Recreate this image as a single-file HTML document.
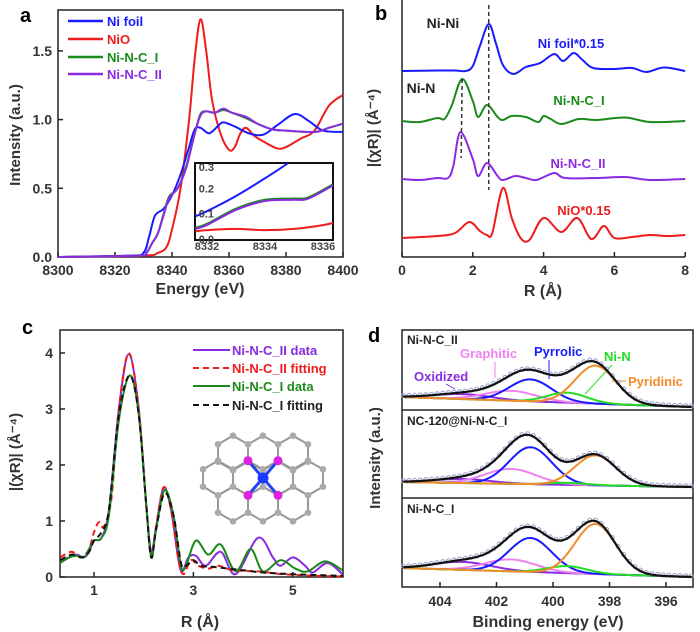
<!DOCTYPE html>
<html><head><meta charset="utf-8">
<style>
html,body{margin:0;padding:0;background:#fff;}
svg{display:block;font-family:"Liberation Sans",sans-serif;font-weight:bold;}
</style></head>
<body>
<svg id="fig" width="700" height="632" viewBox="0 0 700 632" xmlns="http://www.w3.org/2000/svg">
<!-- panel labels -->
<text x="20" y="22" font-size="20">a</text>
<text x="375" y="20" font-size="20">b</text>
<text x="22" y="334" font-size="20">c</text>
<text x="368" y="342" font-size="20">d</text>

<!-- panel a -->
<g id="pa">
<rect x="58" y="10" width="285" height="247" fill="none" stroke="#222" stroke-width="1.5"/>
<text x="200" y="294" font-size="16" text-anchor="middle" fill="#333">Energy (eV)</text>
<text transform="translate(20,135) rotate(-90)" font-size="15" text-anchor="middle" fill="#333">Intensity (a.u.)</text>
<g>
<line x1="68" y1="21" x2="103" y2="21" stroke="#1a1aff" stroke-width="2.5"/><text x="107" y="26" font-size="13" fill="#1a1aff">Ni foil</text>
<line x1="68" y1="39" x2="103" y2="39" stroke="#ee1c1c" stroke-width="2.5"/><text x="107" y="44" font-size="13" fill="#ee1c1c">NiO</text>
<line x1="68" y1="57" x2="103" y2="57" stroke="#1a8a1a" stroke-width="2.5"/><text x="107" y="62" font-size="13" fill="#1a8a1a">Ni-N-C_I</text>
<line x1="68" y1="74" x2="103" y2="74" stroke="#8a2be2" stroke-width="2.5"/><text x="107" y="79" font-size="13" fill="#8a2be2">Ni-N-C_II</text>
</g>
</g>

<!-- panel b -->
<g id="pb">
<line x1="402" y1="0" x2="402" y2="257" stroke="#222" stroke-width="1.5"/>
<line x1="402" y1="257" x2="685" y2="257" stroke="#222" stroke-width="1.5"/>
<text x="543" y="296" font-size="16" text-anchor="middle" fill="#333">R (Å)</text>
<text transform="translate(378,128) rotate(-90)" font-size="15" text-anchor="middle" fill="#333">|(χR)| (Å⁻⁴)</text>
<text x="443" y="28" font-size="14" text-anchor="middle" fill="#222">Ni-Ni</text>
<text x="421" y="93" font-size="14" text-anchor="middle" fill="#222">Ni-N</text>
<text x="571" y="48" font-size="13" text-anchor="middle" fill="#1a1aff">Ni foil*0.15</text>
<text x="579" y="105" font-size="13" text-anchor="middle" fill="#1a8a1a">Ni-N-C_I</text>
<text x="578" y="168" font-size="13" text-anchor="middle" fill="#8a2be2">Ni-N-C_II</text>
<text x="584" y="215" font-size="13" text-anchor="middle" fill="#ee1c1c">NiO*0.15</text>
</g>

<!-- panel c -->
<g id="pc">
<rect x="60" y="330" width="283" height="247" fill="none" stroke="#222" stroke-width="1.5"/>
<text x="200" y="627" font-size="16" text-anchor="middle" fill="#333">R (Å)</text>
<text transform="translate(20,452) rotate(-90)" font-size="15" text-anchor="middle" fill="#333">|(χR)| (Å⁻⁴)</text>
<g>
<line x1="193" y1="350" x2="230" y2="350" stroke="#8a2be2" stroke-width="2"/><text x="232" y="355" font-size="13" fill="#8a2be2">Ni-N-C_II data</text>
<line x1="193" y1="368" x2="230" y2="368" stroke="#ee1c1c" stroke-width="2" stroke-dasharray="6,4"/><text x="232" y="373" font-size="13" fill="#ee1c1c">Ni-N-C_II fitting</text>
<line x1="193" y1="386" x2="230" y2="386" stroke="#1a8a1a" stroke-width="2"/><text x="232" y="391" font-size="13" fill="#1a8a1a">Ni-N-C_I data</text>
<line x1="193" y1="405" x2="230" y2="405" stroke="#111" stroke-width="2" stroke-dasharray="6,4"/><text x="232" y="410" font-size="13" fill="#222">Ni-N-C_I fitting</text>
</g>
<g id="mol"></g>
</g>

<!-- panel d -->
<g id="pd">
<rect x="402" y="330" width="291" height="257" fill="none" stroke="#222" stroke-width="1.5"/>
<line x1="402" y1="410" x2="693" y2="410" stroke="#222" stroke-width="1.5"/>
<line x1="402" y1="498" x2="693" y2="498" stroke="#222" stroke-width="1.5"/>
<text x="548" y="627" font-size="16" text-anchor="middle" fill="#333">Binding energy (eV)</text>
<text transform="translate(380,458) rotate(-90)" font-size="15" text-anchor="middle" fill="#333">Intensity (a.u.)</text>
<text x="407" y="344" font-size="12" fill="#222">Ni-N-C_II</text>
<text x="407" y="425" font-size="12" fill="#222">NC-120@Ni-N-C_I</text>
<text x="407" y="513" font-size="12" fill="#222">Ni-N-C_I</text>
<text x="414" y="381" font-size="13" fill="#8a2be2">Oxidized</text>
<text x="460" y="358" font-size="13" fill="#ee82ee">Graphitic</text>
<text x="534" y="356" font-size="13" fill="#1a1aff">Pyrrolic</text>
<text x="604" y="361" font-size="13" fill="#22dd22">Ni-N</text>
<text x="628" y="386" font-size="13" fill="#f28c28">Pyridinic</text>
<line x1="446" y1="384" x2="455" y2="389" stroke="#8a2be2" stroke-width="1"/>
<line x1="495" y1="362" x2="495" y2="378" stroke="#ee82ee" stroke-width="1"/>
<line x1="549" y1="360" x2="549" y2="379" stroke="#1a1aff" stroke-width="1"/>
<line x1="612" y1="365" x2="585" y2="394" stroke="#22dd22" stroke-width="1"/>
<line x1="626" y1="381" x2="612" y2="381" stroke="#f28c28" stroke-width="1"/>
</g>
</svg>
<script>
// ---------- data ----------
const aFoilE=[8300,8325,8330,8332,8334,8337,8340,8343,8346,8348,8350,8353,8356,8358,8362,8367,8372,8377,8383,8388,8393,8400];
const aFoilI=[0,0.01,0.03,0.15,0.3,0.35,0.45,0.6,0.8,0.93,0.94,0.9,0.95,0.98,0.95,0.9,0.89,0.96,1.04,0.99,0.92,0.91];
const aNiOE=[8300,8330,8335,8338,8340,8343,8346,8348,8350,8352,8354,8357,8360,8362,8364,8366,8369,8373,8377,8380,8385,8390,8395,8400];
const aNiOI=[0,0.01,0.03,0.07,0.2,0.5,1.0,1.45,1.73,1.5,1.15,0.9,0.78,0.8,0.9,0.94,0.88,0.83,0.79,0.8,0.86,0.92,1.1,1.18];
const aIIE=[8300,8328,8331,8333,8335,8337,8339,8342,8345,8348,8350,8352,8355,8358,8361,8366,8370,8375,8380,8390,8395,8400];
const aIII=[0,0.01,0.03,0.1,0.17,0.3,0.43,0.5,0.65,0.9,1.03,1.06,1.05,1.08,1.05,1.02,0.97,0.93,0.92,0.91,0.94,0.97];
const aIE=[8300,8328,8331,8333,8335,8337,8339,8342,8345,8348,8350,8352,8355,8358,8361,8366,8370,8375,8380,8390,8395,8400];
const aII=[0,0.01,0.03,0.1,0.17,0.31,0.44,0.5,0.66,0.9,1.04,1.06,1.05,1.07,1.05,1.01,0.97,0.93,0.92,0.91,0.94,0.97];
const aTicksX=[8300,8320,8340,8360,8380,8400];
const aTicksY=[0,0.5,1.0,1.5];
const inFoilE=[8331.6,8332,8333,8334,8334.8];
const inFoilI=[0.09,0.11,0.17,0.24,0.3];
const inIE=[8331.6,8332,8333,8334,8335,8335.5,8336.4];
const inII=[0.045,0.06,0.12,0.155,0.16,0.165,0.22];
const inIII=[0.04,0.055,0.115,0.15,0.155,0.16,0.215];
const inNiOE=[8331.6,8332,8333,8334,8335,8336,8336.4];
const inNiOI=[0.03,0.035,0.04,0.035,0.04,0.055,0.065];
const inTicksX=[8332,8334,8336];
const inTicksY=[0.0,0.1,0.2,0.3];
const bOffsets=[18.6,13.6,7.8,1.9];
const bFoilR=[0,1.0,1.5,1.8,2.0,2.2,2.45,2.65,2.85,3.15,3.5,3.9,4.3,4.55,4.85,5.1,5.4,6.0,6.5,6.9,7.4,8];
const bFoilV=[0,0.05,0.05,0,0.5,2.5,4.7,2.8,0.6,-0.3,0.4,0.8,1.7,1.0,1.8,1.1,0.3,0.2,0.3,-0.1,0.35,0];
const bIR=[0,0.5,1.0,1.2,1.4,1.7,2.0,2.15,2.4,2.7,2.85,3.1,3.5,3.85,4.0,4.2,4.5,5.0,5.5,6.3,7.0,8];
const bIV=[0,-0.1,0.3,0.2,1.5,4.2,2.0,0.4,1.6,0.4,0.1,0.5,0.4,-0.1,0.5,0.2,-0.3,0.2,0.1,0.35,-0.1,0];
const bIIR=[0,0.5,1.0,1.3,1.45,1.65,2.0,2.15,2.4,2.7,2.85,3.2,3.5,3.8,4.3,4.6,5.5,6.3,7.0,8];
const bIIV=[0,-0.1,0.1,0.1,1.3,4.7,2.0,0.3,1.6,0.3,-0.1,0.3,0.1,-0.1,0.6,0.1,0.1,0.2,-0.1,0];
const bNiOR=[0,1.0,1.5,1.9,2.2,2.4,2.55,2.85,3.1,3.35,3.6,4.0,4.5,4.95,5.35,5.7,6.0,6.5,7.0,7.5,8];
const bNiOV=[0,0.2,0.5,1.6,0.7,0.3,0.5,5.0,2.0,0,-0.2,2.0,0.6,2.0,-0.1,1.2,0,0.1,0.3,0.2,0.3];
const bTicksX=[0,2,4,6,8];
const cR1=[0.32,0.5,0.65,0.8,0.9,1.0,1.15,1.3,1.5,1.7,1.9,2.05,2.15,2.25,2.4,2.55,2.7,2.78,2.9,3.05,3.25,3.55,3.85,4.3,4.6,4.75,5.0,5.25,5.4,5.7,6.0];
const cIIdata=[0.3,0.35,0.4,0.35,0.45,0.65,0.7,1.2,3.0,3.98,3.0,1.3,0.45,0.9,1.6,1.2,0.3,0.1,0.35,0.38,0.2,0.45,0.05,0.7,0.35,0.2,0.35,0.2,0.08,0.25,0.05];
const cR2=[0.32,0.55,0.75,0.9,1.0,1.1,1.2,1.35,1.5,1.7,1.9,2.05,2.15,2.25,2.4,2.55,2.7,2.8,2.95,3.1,3.3,3.5,3.8,4.3,4.8,5.5,6.0];
const cIIfit=[0.35,0.45,0.35,0.5,0.8,0.98,0.9,1.4,3.0,4.0,3.0,1.3,0.4,0.9,1.6,1.2,0.3,0.05,0.3,0.2,0.15,0.2,0.12,0.1,0.05,0.02,0.01];
const cR3=[0.32,0.5,0.65,0.8,0.9,1.0,1.15,1.3,1.5,1.72,1.9,2.05,2.15,2.25,2.42,2.6,2.75,2.85,3.05,3.3,3.55,3.85,4.15,4.4,4.75,5.05,5.3,5.65,6.0];
const cIdata=[0.25,0.35,0.38,0.35,0.5,0.65,0.7,1.1,2.8,3.6,2.9,1.3,0.35,0.85,1.55,1.1,0.2,0.2,0.65,0.4,0.58,0.1,0.5,0.1,0.3,0.15,0.1,0.28,0.12];
const cR4=[0.32,0.55,0.75,0.9,1.0,1.15,1.3,1.5,1.72,1.9,2.05,2.15,2.25,2.42,2.6,2.75,2.85,3.0,3.15,3.4,3.7,4.0,4.4,5.0,6.0];
const cIfit=[0.3,0.4,0.35,0.45,0.65,0.8,1.2,2.9,3.6,2.9,1.3,0.35,0.85,1.5,1.1,0.25,0.2,0.3,0.2,0.18,0.15,0.12,0.08,0.05,0.02];
const cTicksX=[1,3,5];
const cTicksY=[0,1,2,3,4];
const dCenters=[403.2,401.5,400.8,399.5,398.5];
const dWidths=[1.0,0.9,0.75,0.7,0.72];
const dHeights1=[5,10,22,10,38];
const dHeights2=[4,15,37,2,30];
const dHeights3=[8,12,34,7,50];
const dTicksX=[404,402,400,398,396];

// ---------- helpers ----------
const NS='http://www.w3.org/2000/svg';
const svg=document.getElementById('fig');
function mk(tag,attrs,parent){const e=document.createElementNS(NS,tag);for(const k in attrs)e.setAttribute(k,attrs[k]);(parent||svg).appendChild(e);return e;}
function spline(pts){
  if(pts.length<2)return '';
  let d='M'+pts[0][0].toFixed(2)+','+pts[0][1].toFixed(2);
  for(let i=0;i<pts.length-1;i++){
    const p0=pts[i-1]||pts[i],p1=pts[i],p2=pts[i+1],p3=pts[i+2]||p2;
    const c1=[p1[0]+(p2[0]-p0[0])/6,p1[1]+(p2[1]-p0[1])/6];
    const c2=[p2[0]-(p3[0]-p1[0])/6,p2[1]-(p3[1]-p1[1])/6];
    d+='C'+c1[0].toFixed(2)+','+c1[1].toFixed(2)+' '+c2[0].toFixed(2)+','+c2[1].toFixed(2)+' '+p2[0].toFixed(2)+','+p2[1].toFixed(2);
  }
  return d;
}
function curve(xs,ys,fx,fy,style,parent){
  const pts=xs.map((x,i)=>[fx(x),fy(ys[i])]);
  return mk('path',Object.assign({d:spline(pts),fill:'none'},style),parent);
}
const BLUE='#1a1aff',RED='#ee1c1c',GREEN='#1a8a1a',PURP='#8a2be2';

// ---------- panel a ----------
const pa=document.getElementById('pa');
const ax=e=>58+(e-8300)*2.85, ay=v=>257-v*137.4;
aTicksX.forEach(t=>{
  const tk=mk('line',{x1:ax(t),y1:257,x2:ax(t),y2:252,stroke:'#222','stroke-width':1.5},pa);
  
  
  const lb=mk('text',{x:ax(t),y:275,'font-size':14,'text-anchor':'middle',fill:'#333'},pa);lb.textContent=t;
  
  
});
aTicksY.forEach(t=>{
  const tk=mk('line',{x1:58,y1:ay(t),x2:63,y2:ay(t),stroke:'#222','stroke-width':1.5},pa);
  
  
  const lb=mk('text',{x:52,y:ay(t)+5,'font-size':14,'text-anchor':'end',fill:'#333'},pa);lb.textContent=t.toFixed(1);
  
  
});
let s;
s=curve(aNiOE,aNiOI,ax,ay,{stroke:RED,'stroke-width':2},pa);


s=curve(aFoilE,aFoilI,ax,ay,{stroke:BLUE,'stroke-width':2},pa);


s=curve(aIE,aII,ax,ay,{stroke:GREEN,'stroke-width':2},pa);


s=curve(aIIE,aIII,ax,ay,{stroke:PURP,'stroke-width':2},pa);


const insetBg=mk('rect',{x:195,y:163,width:138,height:77,fill:'#fff',stroke:'#111','stroke-width':2},pa);


const clip=mk('clipPath',{id:'inclip'},svg);mk('rect',{x:195,y:163,width:138,height:77},clip);
const ig=mk('g',{'clip-path':'url(#inclip)'},pa);
const ix=e=>207+(e-8332)*29, iy=v=>239-v*253;
s=curve(inNiOE,inNiOI,ix,iy,{stroke:RED,'stroke-width':2},ig);


s=curve(inFoilE,inFoilI,ix,iy,{stroke:BLUE,'stroke-width':2},ig);


s=curve(inIE,inII,ix,iy,{stroke:GREEN,'stroke-width':2},ig);


s=curve(inIE,inIII,ix,iy,{stroke:PURP,'stroke-width':2},ig);


inTicksX.forEach(t=>{
  const lb=mk('text',{x:ix(t),y:250,'font-size':11,'text-anchor':'middle',fill:'#444'},pa);lb.textContent=t;
  
  
});
inTicksY.forEach(t=>{
  const lb=mk('text',{x:214,y:Math.max(iy(t)+4,171),'font-size':11,'text-anchor':'end',fill:'#444'},pa);lb.textContent=t.toFixed(1);
  
  
});

// ---------- panel b ----------
const pb=document.getElementById('pb');
const bx=r=>402+r*35.4, by=v=>257-v*10;
bTicksX.forEach(t=>{
  const tk=mk('line',{x1:bx(t),y1:257,x2:bx(t),y2:252,stroke:'#222','stroke-width':1.5},pb);
  
  
  const lb=mk('text',{x:bx(t),y:275,'font-size':14,'text-anchor':'middle',fill:'#333'},pb);lb.textContent=t;
  
  
});
const bSets=[[bFoilR,bFoilV,BLUE,'series-ni-foil-ft'],[bIR,bIV,GREEN,'series-ni-n-c-i-ft'],[bIIR,bIIV,PURP,'series-ni-n-c-ii-ft'],[bNiOR,bNiOV,RED,'series-nio-ft']];
bSets.forEach((st,k)=>{
  const off=bOffsets[k];
  const p=curve(st[0],st[1],bx,v=>by(v+off),{stroke:st[2],'stroke-width':2},pb);
  
  
});
let dl=mk('line',{x1:bx(2.45),y1:5,x2:bx(2.45),y2:190,stroke:'#333','stroke-width':1.5,'stroke-dasharray':'4,3'},pb);


dl=mk('line',{x1:bx(1.7),y1:79,x2:bx(1.67),y2:158,stroke:'#333','stroke-width':1.5,'stroke-dasharray':'4,3'},pb);



// ---------- panel c ----------
const pc=document.getElementById('pc');
const cx=r=>94+(r-1)*49.7, cy=v=>577-v*56;
cTicksX.forEach(t=>{
  const tk=mk('line',{x1:cx(t),y1:577,x2:cx(t),y2:572,stroke:'#222','stroke-width':1.5},pc);
  
  
  const lb=mk('text',{x:cx(t),y:595,'font-size':14,'text-anchor':'middle',fill:'#333'},pc);lb.textContent=t;
  
  
});
cTicksY.forEach(t=>{
  const tk=mk('line',{x1:60,y1:cy(t),x2:65,y2:cy(t),stroke:'#222','stroke-width':1.5},pc);
  
  
  const lb=mk('text',{x:53,y:cy(t)+5,'font-size':14,'text-anchor':'end',fill:'#333'},pc);lb.textContent=t;
  
  
});
s=curve(cR1,cIIdata,cx,cy,{stroke:PURP,'stroke-width':2},pc);


s=curve(cR2,cIIfit,cx,cy,{stroke:RED,'stroke-width':2,'stroke-dasharray':'6,4'},pc);


s=curve(cR3,cIdata,cx,cy,{stroke:GREEN,'stroke-width':2},pc);


s=curve(cR4,cIfit,cx,cy,{stroke:'#111','stroke-width':2,'stroke-dasharray':'6,4'},pc);


const mol=document.getElementById('mol');
const r=17.3, hexC=[];
[[453,[233,263,293]],[478,[218,248,278,308]],[504,[233,263,293]]].forEach(row=>row[1].forEach(x=>hexC.push([x,row[0]])));
const verts={};
hexC.forEach(c=>{
  const pts=[];
  for(let i=0;i<6;i++){const a=Math.PI/180*(60*i-90);pts.push([c[0]+r*Math.cos(a),c[1]+r*Math.sin(a)]);}
  pts.forEach(p=>verts[p[0].toFixed(0)+','+p[1].toFixed(0)]=p);
  const hx=mk('polygon',{points:pts.map(p=>p.join(',')).join(' '),fill:'none',stroke:'#999','stroke-width':2},mol);
  
  
});
const ni=[263,478];
const nPts=[[248,460.7],[278,460.7],[248,495.3],[278,495.3]];
nPts.forEach(p=>{const b=mk('line',{x1:ni[0],y1:ni[1],x2:p[0],y2:p[1],stroke:'#2244ee','stroke-width':3},mol);
  
  });
Object.values(verts).forEach(p=>{
  if(nPts.some(n=>Math.abs(n[0]-p[0])<2&&Math.abs(n[1]-p[1])<2))return;
  const a=mk('circle',{cx:p[0],cy:p[1],r:3.3,fill:'#aaa'},mol);
  
  
});
nPts.forEach(p=>{const a=mk('circle',{cx:p[0],cy:p[1],r:4.5,fill:'#e020e0'},mol);
  
  });
const nia=mk('circle',{cx:ni[0],cy:ni[1],r:5.5,fill:'#1a3aff'},mol);



// ---------- panel d ----------
const pd=document.getElementById('pd');
const dx=e=>440+(404-e)*28.25;
dTicksX.forEach(t=>{
  const tk=mk('line',{x1:dx(t),y1:587,x2:dx(t),y2:582,stroke:'#222','stroke-width':1.5},pd);
  
  
  const lb=mk('text',{x:dx(t),y:606,'font-size':14,'text-anchor':'middle',fill:'#333'},pd);lb.textContent=t;
  
  
});
const compColors=['#8a2be2','#ee82ee','#1a1aff','#22dd22','#f28c28'];
const compNames=['oxidized','graphitic','pyrrolic','ni-n','pyridinic'];
const subs=[[dHeights1,397,407,'top'],[dHeights2,482,487,'middle'],[dHeights3,568,577,'bottom']];
const eGrid=[];for(let e=405.3;e>=395.05;e-=0.1)eGrid.push(+e.toFixed(2));
subs.forEach(sb=>{
  const H=sb[0];
  const base=e=>sb[1]+(405.35-e)/(10.3)*(sb[2]-sb[1]);
  const g=(k,e)=>H[k]*Math.exp(-((e-dCenters[k])**2)/(2*dWidths[k]**2));
  const bl=mk('line',{x1:402,y1:base(405.35),x2:693,y2:base(395.05),stroke:'#111','stroke-width':1.5},pd);
  
  
  H.forEach((h,k)=>{
    const p=mk('path',{d:spline(eGrid.map(e=>[dx(e),base(e)-g(k,e)])),fill:'none',stroke:compColors[k],'stroke-width':2},pd);
    
    
  });
  const tot=e=>H.reduce((a,h,k)=>a+g(k,e),0);
  for(let i=0;i<eGrid.length;i+=2){
    const e=eGrid[i];
    const m=mk('circle',{cx:dx(e),cy:base(e)-tot(e)-1,r:2,fill:'none',stroke:'#9aa0cc','stroke-width':1},pd);
    
    
  }
  const tp=mk('path',{d:spline(eGrid.map(e=>[dx(e),base(e)-tot(e)])),fill:'none',stroke:'#111','stroke-width':2.2},pd);
  
  
});
</script>
</body></html>
